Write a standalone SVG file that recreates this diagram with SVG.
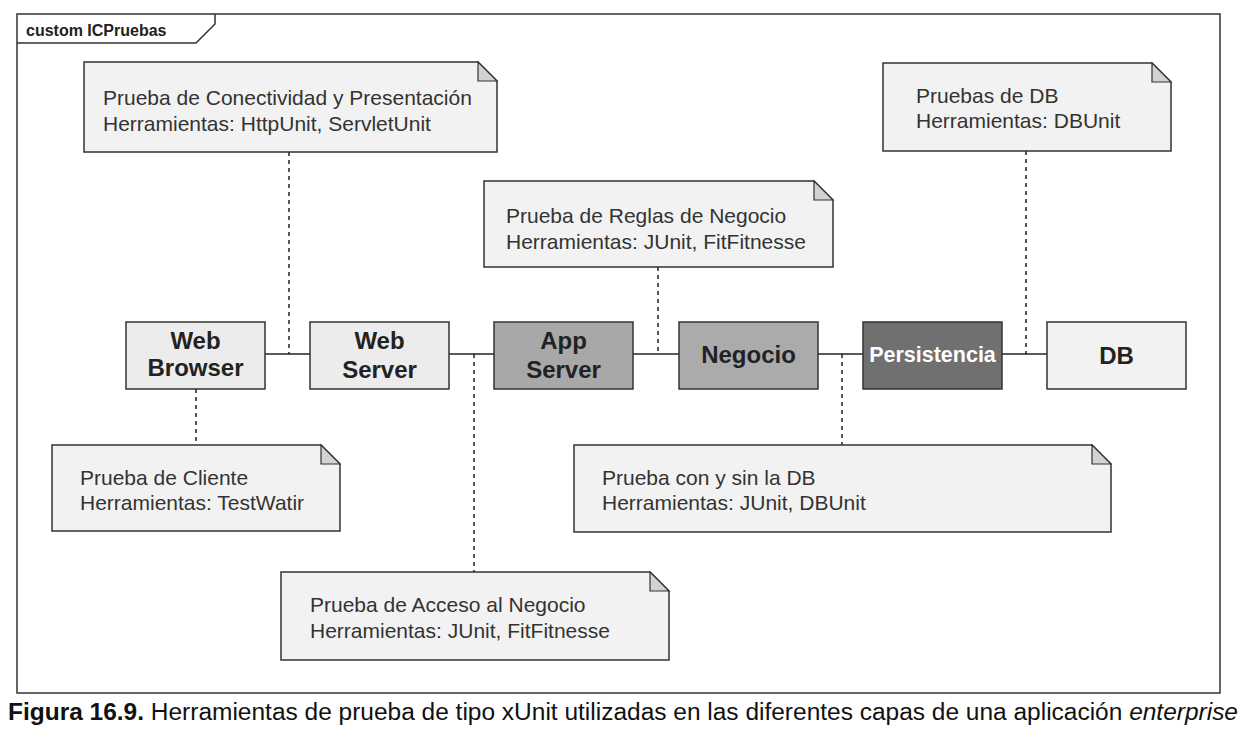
<svg xmlns="http://www.w3.org/2000/svg" width="1247" height="753" viewBox="0 0 1247 753">
<style>
.frame{fill:none;stroke:#333;stroke-width:1.5}
.note{fill:#f2f2f2;stroke:#333;stroke-width:1.5}
.fold{fill:#d2d2d2;stroke:#333;stroke-width:1.2}
.nt{font-family:"Liberation Sans",Arial,sans-serif;font-size:21px;fill:#333}
.node{stroke:#333;stroke-width:1.5}
.nl{font-family:"Liberation Sans",Arial,sans-serif;font-size:24px;font-weight:bold;fill:#222;text-anchor:middle}
.solid{stroke:#222;stroke-width:1.5;fill:none}
.dot{stroke:#222;stroke-width:1.5;stroke-dasharray:4 4;fill:none}
</style>
<rect width="1247" height="753" fill="#fff"/>
<g id="frame">
<rect class="frame" x="17" y="14" width="1203" height="679"/>
<path class="frame" d="M17 43 H196 L215 24 V14"/>
<text x="26" y="36" font-family="Liberation Sans,Arial,sans-serif" font-size="16" font-weight="bold" fill="#222">custom ICPruebas</text>
</g>
<g id="connectors">
<line class="solid" x1="265" y1="354" x2="310" y2="354"/>
<line class="solid" x1="449" y1="354" x2="494" y2="354"/>
<line class="solid" x1="633" y1="354" x2="679" y2="354"/>
<line class="solid" x1="818" y1="354" x2="863" y2="354"/>
<line class="solid" x1="1002" y1="354" x2="1047" y2="354"/>
<line class="dot" x1="289" y1="152" x2="289" y2="354"/>
<line class="dot" x1="196" y1="389" x2="196" y2="445"/>
<line class="dot" x1="474" y1="354" x2="474" y2="572"/>
<line class="dot" x1="658" y1="267" x2="658" y2="354"/>
<line class="dot" x1="842" y1="354" x2="842" y2="445"/>
<line class="dot" x1="1026" y1="151" x2="1026" y2="354"/>
</g>
<g id="webbrowser">
<rect class="node" x="126" y="322" width="139" height="67" fill="#ececec"/>
<text class="nl" x="195.5" y="349">Web</text>
<text class="nl" x="195.5" y="376">Browser</text>
</g>
<g id="webserver">
<rect class="node" x="310" y="322" width="139" height="67" fill="#ececec"/>
<text class="nl" x="379.5" y="349">Web</text>
<text class="nl" x="379.5" y="378">Server</text>
</g>
<g id="appserver">
<rect class="node" x="494" y="322" width="139" height="67" fill="#a8a8a8"/>
<text class="nl" x="563.5" y="349">App</text>
<text class="nl" x="563.5" y="378">Server</text>
</g>
<g id="negocio">
<rect class="node" x="679" y="322" width="139" height="67" fill="#ababab"/>
<text class="nl" x="748.5" y="363">Negocio</text>
</g>
<g id="persistencia">
<rect class="node" x="863" y="322" width="139" height="67" fill="#707070"/>
<text class="nl" x="932.5" y="362" style="fill:#fff;font-size:21.5px">Persistencia</text>
</g>
<g id="db">
<rect class="node" x="1047" y="322" width="139" height="67" fill="#f2f2f2"/>
<text class="nl" x="1116.5" y="364">DB</text>
</g>
<g id="note-conectividad">
<path class="note" d="M84 62 H478 L497 81 V152 H84 Z"/>
<path class="fold" d="M478 62 V81 H497 Z"/>
<text class="nt" x="103" y="105">Prueba de Conectividad y Presentación</text>
<text class="nt" x="103" y="131">Herramientas: HttpUnit, ServletUnit</text>
</g>
<g id="note-db">
<path class="note" d="M883 63 H1152 L1171 82 V151 H883 Z"/>
<path class="fold" d="M1152 63 V82 H1171 Z"/>
<text class="nt" x="916" y="103">Pruebas de DB</text>
<text class="nt" x="916" y="128">Herramientas: DBUnit</text>
</g>
<g id="note-reglas">
<path class="note" d="M484 181 H814 L833 200 V267 H484 Z"/>
<path class="fold" d="M814 181 V200 H833 Z"/>
<text class="nt" x="506" y="223">Prueba de Reglas de Negocio</text>
<text class="nt" x="506" y="249">Herramientas: JUnit, FitFitnesse</text>
</g>
<g id="note-cliente">
<path class="note" d="M52 445 H321 L340 464 V531 H52 Z"/>
<path class="fold" d="M321 445 V464 H340 Z"/>
<text class="nt" x="80" y="485">Prueba de Cliente</text>
<text class="nt" x="80" y="510">Herramientas: TestWatir</text>
</g>
<g id="note-consin">
<path class="note" d="M574 445 H1092 L1111 464 V532 H574 Z"/>
<path class="fold" d="M1092 445 V464 H1111 Z"/>
<text class="nt" x="602" y="485">Prueba con y sin la DB</text>
<text class="nt" x="602" y="510">Herramientas: JUnit, DBUnit</text>
</g>
<g id="note-acceso">
<path class="note" d="M281 572 H650 L669 591 V660 H281 Z"/>
<path class="fold" d="M650 572 V591 H669 Z"/>
<text class="nt" x="310" y="612">Prueba de Acceso al Negocio</text>
<text class="nt" x="310" y="638">Herramientas: JUnit, FitFitnesse</text>
</g>
<g id="caption">
<text x="8" y="720" font-family="Liberation Sans,Arial,sans-serif" font-size="23" fill="#111" textLength="1230" lengthAdjust="spacingAndGlyphs"><tspan font-weight="bold">Figura 16.9.</tspan> Herramientas de prueba de tipo xUnit utilizadas en las diferentes capas de una aplicación <tspan font-style="italic">enterprise</tspan></text>
</g>
</svg>
